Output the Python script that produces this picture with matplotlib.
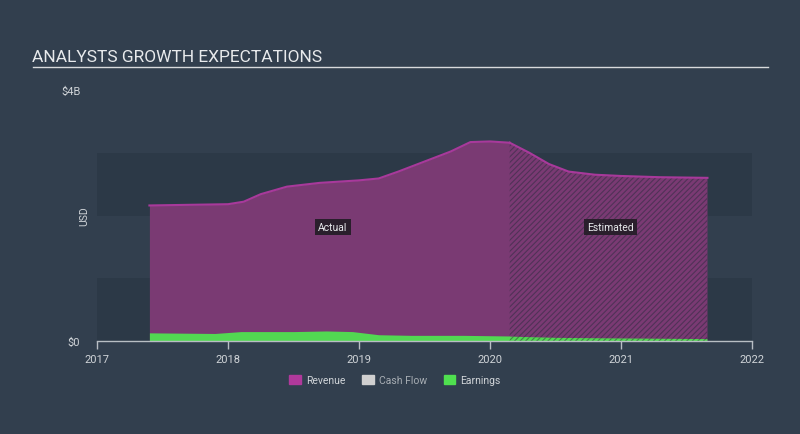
import matplotlib
matplotlib.use("Agg")
import matplotlib.pyplot as plt
from matplotlib.patches import Patch

# Revenue (billions USD), actual then estimated
rev_years = [2017.40, 2017.7, 2018.0, 2018.12, 2018.25, 2018.45, 2018.7, 2019.0, 2019.15,
             2019.3, 2019.5, 2019.7, 2019.85, 2020.0, 2020.15]
rev_vals = [2.16, 2.17, 2.18, 2.22, 2.34, 2.46, 2.52, 2.56, 2.59,
            2.70, 2.86, 3.02, 3.17, 3.18, 3.16]
est_rev_years = [2020.15, 2020.3, 2020.45, 2020.6, 2020.8, 2021.0, 2021.3, 2021.66]
est_rev_vals = [3.16, 3.00, 2.82, 2.70, 2.65, 2.63, 2.61, 2.60]

earn_years = [2017.40, 2017.9, 2018.1, 2018.5, 2018.75, 2018.95, 2019.15, 2019.4, 2019.8, 2020.15]
earn_vals = [0.13, 0.12, 0.15, 0.15, 0.16, 0.15, 0.10, 0.09, 0.09, 0.08]
est_earn_years = [2020.15, 2020.5, 2021.0, 2021.66]
est_earn_vals = [0.07, 0.05, 0.04, 0.03]

x_ticks = [2017, 2018, 2019, 2020, 2021, 2022]

BG = "#323f4e"
BAND = "#2c3947"
REV = "#7a3a73"
REV_LINE = "#a8399b"
EARN = "#52d852"
TXT = "#d0d4d8"

plt.rcParams["font.family"] = ["Roboto", "DejaVu Sans"]
plt.rcParams["hatch.linewidth"] = 0.8

fig = plt.figure(figsize=(8, 4.35), dpi=100)
fig.patch.set_facecolor(BG)

# title and underline
fig.text(32 / 800, 1 - 57 / 435, "ANALYSTS GROWTH EXPECTATIONS", color="#e8eaec",
         fontsize=12.5, va="center", ha="left")
fig.add_artist(plt.Line2D([33 / 800, 768 / 800], [1 - 68 / 435, 1 - 68 / 435],
                          color="#d8dadc", linewidth=1))

ax = fig.add_axes([97 / 800, 93 / 435, 655 / 800, 251 / 435])
ax.set_facecolor(BG)
ax.set_xlim(2017, 2022)
ax.set_ylim(0, 4)

# background bands
ax.axhspan(0, 1, color=BAND, lw=0, zorder=0)
ax.axhspan(2, 3, color=BAND, lw=0, zorder=0)

# actual
ax.fill_between(rev_years, 0, rev_vals, color=REV, lw=0, zorder=1)
ax.plot(rev_years, rev_vals, color=REV_LINE, lw=1.5, zorder=3)
ax.fill_between(earn_years, 0, earn_vals, color=EARN, lw=0, zorder=2)

# estimated (hatched)
ax.fill_between(est_rev_years, 0, est_rev_vals, facecolor=REV, edgecolor="#503257",
                hatch="//////", lw=0, zorder=1)
ax.plot(est_rev_years, est_rev_vals, color=REV_LINE, lw=1.5, zorder=3)
ax.fill_between(est_earn_years, 0, est_earn_vals, facecolor=EARN, edgecolor="#3f8445",
                hatch="//////", lw=0, zorder=2)

ax.text(2018.8, 1.82, "Actual", color="#e8eaec", fontsize=7.5, ha="center", va="center",
        bbox=dict(boxstyle="square,pad=0.3", fc="#2a1f2c", ec="none"), zorder=5)
ax.text(2020.92, 1.82, "Estimated", color="#e8eaec", fontsize=7.5, ha="center", va="center",
        bbox=dict(boxstyle="square,pad=0.3", fc="#2a1f2c", ec="none"), zorder=5)

for s in ["top", "right", "left"]:
    ax.spines[s].set_visible(False)
ax.spines["bottom"].set_color("#b8bec4")
ax.spines["bottom"].set_linewidth(1)
ax.spines["bottom"].set_zorder(6)

ax.set_xticks(x_ticks)
ax.set_xticklabels([str(y) for y in x_ticks])
ax.tick_params(axis="x", colors="#b8bec4", labelcolor=TXT, labelsize=8, length=6, width=1)
ax.set_yticks([0, 4])
ax.set_yticklabels(["$0", "$4B"])
ax.tick_params(axis="y", length=0, labelcolor=TXT, labelsize=8, pad=12)
ax.set_ylabel("USD", color=TXT, fontsize=7.5)
ax.yaxis.set_label_coords(-0.012, 0.5)

handles = [Patch(color="#b0399b"), Patch(color="#d0d0d0"), Patch(color="#4fe04f")]
leg = fig.legend(handles, ["Revenue", "Cash Flow", "Earnings"], loc="center",
                 bbox_to_anchor=(395 / 800, 1 - 381 / 435), ncol=3, frameon=False,
                 fontsize=7.5, handlelength=1.1, handleheight=1.0, columnspacing=1.6,
                 handletextpad=0.5)
for t, c in zip(leg.get_texts(), [TXT, "#a8aeb4", TXT]):
    t.set_color(c)

fig.savefig("out.png", dpi=100, facecolor=BG)
